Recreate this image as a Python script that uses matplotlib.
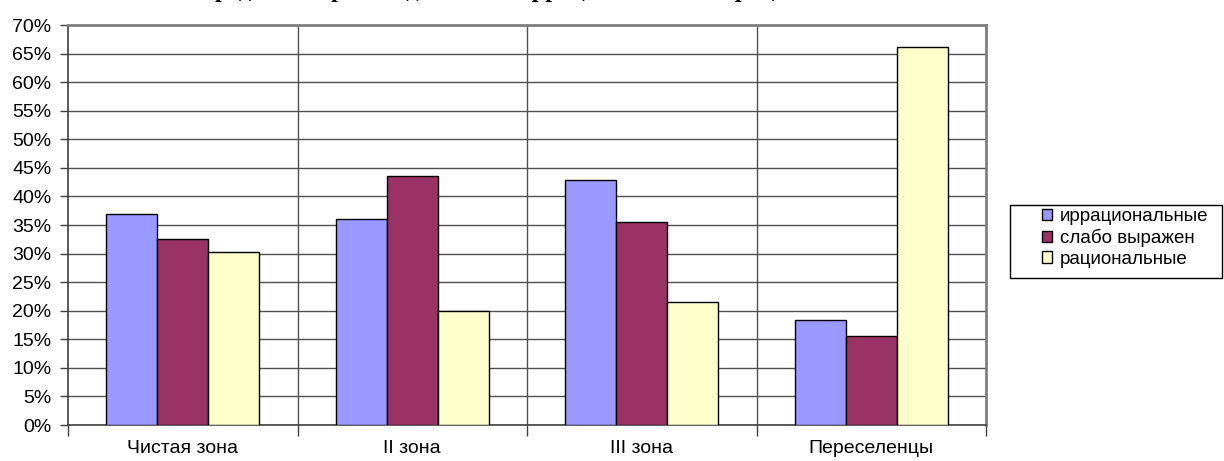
import numpy as np
import matplotlib.pyplot as plt
from matplotlib.patches import Rectangle
from matplotlib.ticker import FixedLocator, PercentFormatter

categories = ['Чистая зона', 'II зона', 'III зона', 'Переселенцы']
series = ['иррациональные', 'слабо выражен', 'рациональные']
irrational = [36.9, 36.1, 42.8, 18.3]
weak = [32.5, 43.5, 35.5, 15.5]
rational = [30.3, 20.0, 21.6, 66.1]
colors = ['#9999FF', '#993366', '#FFFFCC']
title = 'Рис. 3. Распределение респондентов на иррациональных и рациональных по зонам'

plt.rcParams['font.family'] = ['Liberation Sans', 'DejaVu Sans']

fig = plt.figure(figsize=(12.24, 4.61), dpi=100, facecolor='white')
ax = fig.add_axes([68 / 1224, 1 - 425 / 461, (986 - 68) / 1224, 400 / 461])

x = np.arange(len(categories))
w = 0.222
for i, (vals, name) in enumerate(zip([irrational, weak, rational], series)):
    ax.bar(x + (i - 1) * w, vals, w, color=colors[i], edgecolor='black',
           linewidth=1, label=name, zorder=3)

ax.set_xlim(-0.5, len(categories) - 0.5)
ax.set_ylim(0, 70)
ax.set_yticks(np.arange(0, 71, 5))
ax.yaxis.set_major_formatter(PercentFormatter(decimals=0))
ax.tick_params(axis='y', labelsize=14, length=6, width=1, color='#404040', pad=6)

ax.set_xticks(x)
ax.set_xticklabels(categories, fontsize=14)
ax.xaxis.set_minor_locator(FixedLocator(np.arange(-0.5, len(categories), 1)))
ax.tick_params(axis='x', which='major', length=0, pad=11)
ax.tick_params(axis='x', which='minor', length=8, width=1, color='#404040')

ax.grid(axis='y', color='#505050', linewidth=1, zorder=0)
for b in np.arange(0.5, len(categories) - 1, 1):
    ax.axvline(b, color='#505050', linewidth=1, zorder=0)

for s in ['left', 'bottom']:
    ax.spines[s].set_color('#404040')
    ax.spines[s].set_linewidth(1.2)
for s in ['top', 'right']:
    ax.spines[s].set_color('#808080')
    ax.spines[s].set_linewidth(2)

# legend: frame drawn separately, Excel style wide left padding
fig.patches.append(Rectangle((1010 / 1224, 1 - 278 / 461), 212 / 1224, 73 / 461,
                             transform=fig.transFigure, facecolor='white',
                             edgecolor='black', linewidth=1, zorder=-1))
leg = ax.legend(loc='upper left', bbox_to_anchor=(1040 / 1224, 1 - 206 / 461),
                bbox_transform=fig.transFigure, fontsize=13.5, frameon=False,
                handlelength=0.55, handleheight=0.55, handletextpad=0.4,
                borderpad=0.1, labelspacing=0.2, borderaxespad=0)

fig.text(544 / 1224, 1 + 3 / 461, title, ha='center', va='baseline',
         fontsize=17.5, fontweight='bold', family=['Liberation Serif', 'DejaVu Serif'])

fig.savefig('out.png', dpi=100)
